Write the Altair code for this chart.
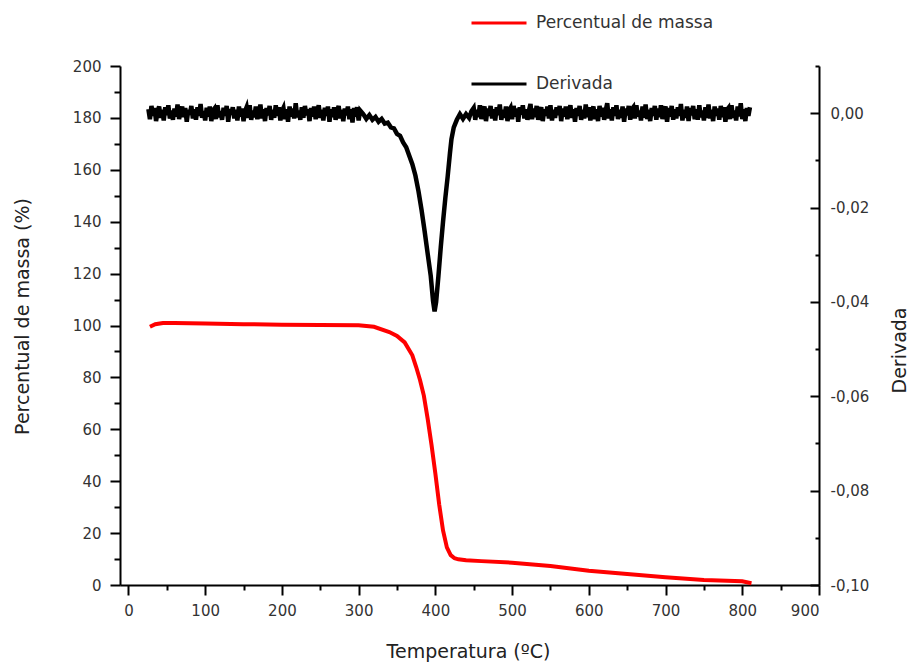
import altair as alt
import pandas as pd

# ---- Percentual de massa (TG curve) ----
mass_T = [28, 35, 45, 60, 100, 150, 200, 250, 300, 320, 340, 350, 360, 370, 375,
          380, 385, 390, 395, 400, 405, 410, 415, 420, 425, 430, 440, 460, 500,
          550, 600, 650, 700, 750, 800, 812]
mass_V = [99.5, 100.5, 101.0, 101.0, 100.8, 100.5, 100.3, 100.2, 100.1, 99.5,
          97.5, 96.0, 93.5, 88.5, 84.0, 79.0, 73.0, 64.0, 54.0, 43.0, 31.0, 21.0,
          14.5, 11.5, 10.3, 9.9, 9.5, 9.2, 8.6, 7.3, 5.5, 4.2, 3.0, 1.9, 1.4, 0.7]

# ---- Derivada (DTG curve) ----
# flat noisy parts, in units of NOISE_UNIT
NOISE_UNIT = 1.4e-4
left_T = list(range(26, 303, 2))
left_D = [6, -9, 11, -4, 8, -12, 3, 10, -7, 5, -11, 9, -3, 12, -8, 4, -10, 7, -5, 13,
          -9, 2, 10, -6, 8, -13, 5, -2, 11, -8, 6, -10, 9, -4, 14, -7, 3, -11, 8, -5,
          10, -12, 4, 7, -9, 12, -6, 3, -10, 8, -4, 11, -13, 6, -2, 9, -8, 5, -11, 10,
          -5, 7, -12, 3, 9, -7, 12, -10, 4, -6, 10, -9, 2, 13, -8, 6, -12, 8, -3, 11,
          -10, 5, -7, 12, -4, 9, -11, 3, 8, -9, 6, -13, 10, -5, 7, -8, 15, -6, 4, -10,
          9, -7, 11, -3, 6, -12, 8, -5, 10, -9, 3, 12, -7, 5, -11, 8, -4, 10, -13, 6,
          -6, 9, -10, 4, 11, -8, 5, -12, 7, -3, 10, -9, 6, -14, 8, -5, 9, -11, 4]
right_T = list(range(450, 811, 2))
right_D = [8, -10, 5, -6, 12, -9, 3, 10, -12, 7, -4, 11, -8, 6, -11, 9, -3, 13, -10, 5,
           -7, 10, -12, 4, 8, -9, 11, -5, 7, -13, 9, -2, 12, -8, 6, -10, 4, 14, -9, 7,
           -6, 11, -10, 3, 9, -12, 6, -4, 10, -8, 12, -11, 5, -7, 9, -3, 11, -12, 7, -5,
           10, -9, 4, 12, -7, 6, -13, 8, -4, 11, -10, 5, -8, 13, -6, 9, -11, 3, 10, -9,
           6, -12, 11, -5, 8, -10, 4, 15, -8, 6, -11, 9, -4, 12, -9, 5, -7, 10, -13, 7,
           -3, 11, -10, 6, 9, -8, 12, -5, 4, -11, 10, -7, 13, -9, 5, -12, 8, -4, 11, -10,
           7, -6, 12, -9, 3, 10, -13, 8, -5, 11, -10, 6, -8, 9, -4, 14, -11, 5, -7, 10,
           -12, 8, -3, 11, -9, 6, -10, 12, -6, 4, -11, 9, -7, 13, -8, 5, -12, 10, -4, 7,
           -10, 11, -6, 9, -13, 5, 8, -9, 12, -7, 4, -11, 10, -5, 15, -9, 6, -12, 8, -4,
           9]
# decomposition peak, in units of PEAK_UNIT
PEAK_UNIT = 1e-4
peak_T = [306, 310, 314, 318, 322, 326, 330, 334, 338, 342, 346, 350, 354, 358, 362,
          366, 370, 374, 378, 382, 386, 390, 394, 397, 399, 401, 404, 407, 410, 413,
          416, 419, 421, 424, 428, 432, 436, 440, 444, 447]
peak_D = [-2, -12, -4, -14, -8, -18, -12, -22, -20, -30, -32, -44, -48, -62, -72,
          -90, -108, -132, -165, -205, -250, -298, -345, -398, -420, -400, -345, -285,
          -230, -180, -135, -85, -55, -30, -14, -2, -12, -2, -10, 4]

series = ["Percentual de massa", "Derivada"]
x_major = list(range(0, 901, 100))
x_minor = list(range(50, 900, 100))
yl_major = list(range(0, 201, 20))
yl_minor = list(range(10, 200, 20))
yr_major = [-0.10, -0.08, -0.06, -0.04, -0.02, 0.00]
yr_minor = [-0.09, -0.07, -0.05, -0.03, -0.01, 0.01]

mass_df = pd.DataFrame({"T": mass_T, "V": mass_V, "s": series[0]})
deriv_df = pd.DataFrame({
    "T": left_T + peak_T + right_T,
    "D": [v * NOISE_UNIT for v in left_D] + [v * PEAK_UNIT for v in peak_D]
         + [v * NOISE_UNIT for v in right_D],
    "s": series[1],
})

FONT = "DejaVu Sans"
LBL = "#333333"
PW, PH = 699, 519

xscale = alt.Scale(domain=[-11, 900], nice=False, zero=False)
lscale = alt.Scale(domain=[0, 200], nice=False)
rscale = alt.Scale(domain=[-0.10, 0.01], nice=False, zero=False)

legend = alt.Legend(
    orient="none", legendX=350, legendY=-72, direction="vertical", title=None,
    symbolType="stroke", symbolSize=3025, symbolStrokeWidth=3, labelFontSize=17,
    labelFont=FONT, labelColor=LBL, labelOffset=8, rowPadding=24, padding=0,
    labelLimit=500,
)
color = alt.Color("s:N", scale=alt.Scale(domain=series, range=["#ff0000", "#000000"]),
                  legend=legend)

mass_line = alt.Chart(mass_df).mark_line(strokeWidth=4).encode(
    x=alt.X("T:Q", scale=xscale, axis=alt.Axis(
        orient="bottom", values=x_major, tickSize=10, labelPadding=8,
        title="Temperatura (ºC)", titleX=348, titleY=66, titleBaseline="middle",
        titleFontSize=19)),
    y=alt.Y("V:Q", scale=lscale, axis=alt.Axis(
        orient="left", values=yl_major, tickSize=10, labelPadding=9,
        title="Percentual de massa (%)", titleX=-98, titleY=250,
        titleBaseline="middle", titleFontSize=19)),
    color=color,
)
mass_minor = alt.Chart(mass_df).mark_line(opacity=0).encode(
    x=alt.X("T:Q", scale=xscale, axis=alt.Axis(
        orient="bottom", values=x_minor, tickSize=5, labels=False, domain=False,
        title=None)),
    y=alt.Y("V:Q", scale=lscale, axis=alt.Axis(
        orient="left", values=yl_minor, tickSize=6, labels=False, domain=False,
        title=None)),
)
left = alt.layer(mass_line, mass_minor).resolve_axis(x="independent", y="independent")

rlabel = "replace(replace(format(datum.value, '.2f'), '.', ','), '\u2212', '-')"
deriv_line = alt.Chart(deriv_df).mark_line(strokeWidth=4.5).encode(
    x=alt.X("T:Q", scale=xscale, axis=None),
    y=alt.Y("D:Q", scale=rscale, axis=alt.Axis(
        orient="right", values=yr_major, ticks=False, tickSize=0, labelPadding=11,
        labelExpr=rlabel, title="Derivada", titleAngle=270, titleX=80, titleY=284,
        titleBaseline="middle", titleFontSize=19)),
    color=color,
)
deriv_major = alt.Chart(deriv_df).mark_line(opacity=0).encode(
    x=alt.X("T:Q", scale=xscale, axis=None),
    y=alt.Y("D:Q", scale=rscale, axis=alt.Axis(
        orient="left", offset=-PW, values=yr_major, tickSize=9,
        labels=False, domain=False, title=None)),
)
deriv_minor = alt.Chart(deriv_df).mark_line(opacity=0).encode(
    x=alt.X("T:Q", scale=xscale, axis=None),
    y=alt.Y("D:Q", scale=rscale, axis=alt.Axis(
        orient="left", offset=-PW, values=yr_minor, tickSize=4,
        labels=False, domain=False, title=None)),
)
right = alt.layer(deriv_line, deriv_major, deriv_minor).resolve_axis(y="independent")

chart = alt.layer(left, right).resolve_scale(y="independent").resolve_axis(
    x="independent", y="independent"
).properties(
    width=PW, height=PH,
    padding={"left": 120, "top": 66, "right": 90, "bottom": 77},
    autosize=alt.AutoSizeParams(type="none"),
).configure_view(stroke=None).configure_axis(
    grid=False, domainColor="#000000", tickColor="#000000", domainWidth=2,
    tickWidth=2, labelFont=FONT, titleFont=FONT, labelFontSize=15,
    labelColor=LBL, titleColor="#222222", titleFontWeight="normal",
)

chart.save("out.html", embed_options={"renderer": "svg", "actions": False})
